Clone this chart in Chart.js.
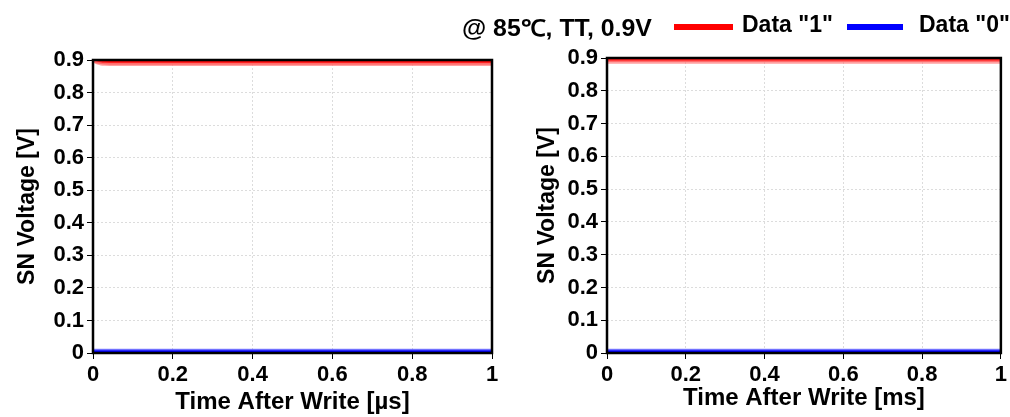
<!DOCTYPE html>
<html>
<head>
<meta charset="utf-8">
<script src="https://cdn.jsdelivr.net/npm/chart.js@4/dist/chart.umd.min.js"></script>
<style>
    body { margin: 0; background: #fff; }
    #wrap { position: relative; width: 1010px; height: 417px; font-family: "Liberation Sans", Arial, sans-serif; font-weight: bold; }
    .box { position: absolute; top: 0; height: 417px; }
    .lg { position: absolute; top: 11px; font-size: 23px; color: #000; white-space: nowrap; transform-origin: left center; }
    .sw { position: absolute; top: 24px; height: 6px; }
</style>
</head>
<body>
<div id="wrap">
    <div class="box" style="left:0;width:505px"><canvas id="leftChart"></canvas></div>
    <div class="box" style="left:505px;width:505px"><canvas id="rightChart"></canvas></div>
    <span class="lg" style="left:462px;transform:scaleX(1.08)">@ 85℃, TT, 0.9V</span>
    <span class="sw" style="left:674px;width:59px;background:#ff0000"></span>
    <span class="lg" style="left:742px">Data "1"</span>
    <span class="sw" style="left:847px;width:56px;background:#0000ff"></span>
    <span class="lg" style="left:919px">Data "0"</span>
</div>
<script>
// ====================== DATA ======================

const xTicks = [0, 0.2, 0.4, 0.6, 0.8, 1];
const yTicks = [0, 0.1, 0.2, 0.3, 0.4, 0.5, 0.6, 0.7, 0.8, 0.9];

// left panel, time in µs
const timeUs = [0, 0.01, 0.02, 0.03, 0.05, 0.08, 0.1, 0.2, 0.4, 0.6, 0.8, 1];
const data1UsA = [0.899, 0.897, 0.897, 0.896, 0.896, 0.896, 0.896, 0.896, 0.896, 0.896, 0.896, 0.896];
const data1UsB = [0.899, 0.894, 0.892, 0.891, 0.890, 0.890, 0.890, 0.890, 0.890, 0.890, 0.890, 0.890];
const data1UsC = [0.898, 0.891, 0.888, 0.887, 0.886, 0.886, 0.886, 0.886, 0.886, 0.886, 0.886, 0.886];
const data0UsA = [0.006, 0.006, 0.006, 0.006, 0.006, 0.006, 0.006, 0.006, 0.006, 0.006, 0.006, 0.006];
const data0UsB = [0.010, 0.010, 0.010, 0.010, 0.010, 0.010, 0.010, 0.010, 0.010, 0.010, 0.010, 0.010];

// right panel, time in ms
const timeMs = [0, 0.2, 0.4, 0.6, 0.8, 1];
const data1MsA = [0.897, 0.897, 0.897, 0.897, 0.897, 0.897];
const data1MsB = [0.892, 0.892, 0.892, 0.892, 0.892, 0.892];
const data1MsC = [0.887, 0.887, 0.887, 0.887, 0.887, 0.887];
const data0MsA = [0.006, 0.006, 0.006, 0.006, 0.006, 0.006];
const data0MsB = [0.010, 0.010, 0.010, 0.010, 0.010, 0.010];

// ====================== HELPERS ======================

const FONT = { family: '"Liberation Sans", Arial, sans-serif', weight: 'bold' };

function pts(xs, ys) {
    return xs.map((x, i) => ({ x: x, y: ys[i] }));
}

function line(xs, ys, color, width) {
    return {
        data: pts(xs, ys),
        borderColor: color,
        borderWidth: width,
        pointRadius: 0,
        tension: 0.3,
        fill: false
    };
}

// black frame around plot area
const framePlugin = {
    id: 'frame',
    afterDatasetsDraw(chart) {
        const a = chart.chartArea;
        const ctx = chart.ctx;
        ctx.save();
        ctx.strokeStyle = '#000';
        ctx.lineWidth = 2.5;
        ctx.strokeRect(a.left, a.top, a.right - a.left, a.bottom - a.top);
        ctx.restore();
    }
};

function makeChart(id, xs, sets, xTitle, opt) {
    const ctx = document.getElementById(id);
    return new Chart(ctx, {
        type: 'line',
        data: {
            datasets: [
                line(xs, sets[2], 'rgba(255,120,120,0.7)', 3),
                line(xs, sets[1], 'rgba(255,40,40,0.8)', 3),
                line(xs, sets[0], '#ff0000', 3.5),
                line(xs, sets[4], 'rgba(80,80,255,0.7)', 2),
                line(xs, sets[3], '#0000ff', 2.5)
            ]
        },
        options: {
            responsive: true,
            maintainAspectRatio: false,
            animation: false,
            layout: { padding: { top: opt.top, right: opt.right, bottom: opt.bottom, left: 0 } },
            plugins: { legend: { display: false }, tooltip: { enabled: false } },
            scales: {
                x: {
                    type: 'linear',
                    min: 0,
                    max: 1,
                    afterBuildTicks: s => { s.ticks = xTicks.map(v => ({ value: v })); },
                    afterFit: s => { s.height = opt.xHeight; },
                    grid: { color: '#dcdcdc', tickColor: '#000', tickLength: 6, lineWidth: 1 },
                    border: { display: false, dash: [2, 2] },
                    ticks: {
                        color: '#000',
                        font: { ...FONT, size: 22 },
                        padding: 3,
                        maxRotation: 0,
                        callback: v => String(v)
                    },
                    title: { display: true, text: xTitle, color: '#000', font: { ...FONT, size: 24 }, padding: { top: 0, bottom: 0 } }
                },
                y: {
                    min: 0,
                    max: 0.9,
                    afterBuildTicks: s => { s.ticks = yTicks.map(v => ({ value: v })); },
                    afterFit: s => { s.width = opt.yWidth; },
                    grid: { color: '#dcdcdc', tickColor: '#000', tickLength: 6, lineWidth: 1 },
                    border: { display: false, dash: [2, 2] },
                    ticks: {
                        color: '#000',
                        font: { ...FONT, size: 22 },
                        padding: 3,
                        callback: v => String(Math.round(v * 10) / 10)
                    },
                    title: { display: true, text: 'SN Voltage [V]', color: '#000', font: { ...FONT, size: 23 }, padding: { top: opt.yTitlePad, bottom: 0 } }
                }
            }
        },
        plugins: [framePlugin]
    });
}

// ====================== CHARTS ======================

makeChart('leftChart', timeUs,
    [data1UsA, data1UsB, data1UsC, data0UsA, data0UsB],
    'Time After Write [µs]',
    { top: 60, right: 13, bottom: 0, xHeight: 64, yWidth: 93, yTitlePad: 14 });

makeChart('rightChart', timeMs,
    [data1MsA, data1MsB, data1MsC, data0MsA, data0MsB],
    'Time After Write [ms]',
    { top: 58, right: 4, bottom: 4, xHeight: 60, yWidth: 102, yTitlePad: 29 });
</script>
</body>
</html>
